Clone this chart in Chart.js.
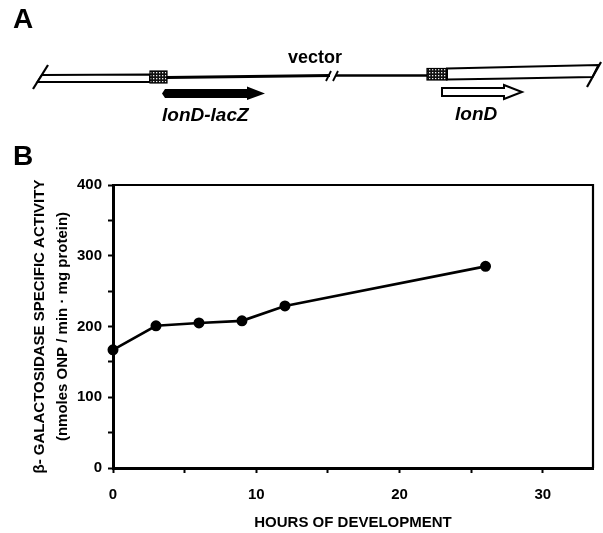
<!DOCTYPE html>
<html>
<head>
<meta charset="utf-8">
<script src="https://cdn.jsdelivr.net/npm/chart.js@4/dist/chart.umd.min.js"></script>
<style>
  html, body { margin: 0; padding: 0; background: #fff; }
  #wrap { position: relative; width: 603px; height: 533px; }
  #myChart { position: absolute; left: 0; top: 0; }
  #diagram { position: absolute; left: 0; top: 0; }
  text { font-family: "Liberation Sans", Arial, sans-serif; font-weight: bold; }
</style>
</head>
<body>
<div id="wrap">
  <canvas id="myChart" width="603" height="533"></canvas>
  <svg id="diagram" width="603" height="180" viewBox="0 0 603 180">
    <defs>
      <pattern id="hatch" width="3" height="3" patternUnits="userSpaceOnUse">
        <rect width="3" height="3" fill="#111"/>
        <rect x="0" y="0" width="1.3" height="1.3" fill="#eee"/>
      </pattern>
    </defs>
    <text x="13" y="28" font-size="28">A</text>
    <text x="13" y="165" font-size="28">B</text>

    <!-- left end -->
    <line x1="33" y1="89" x2="48" y2="65" stroke="#000" stroke-width="2.2"/>
    <polygon points="42,75 150,74.5 150,82 37.5,82" fill="#fff" stroke="#000" stroke-width="2"/>
    <rect x="150" y="71" width="17" height="12" fill="url(#hatch)" stroke="#000" stroke-width="1.2"/>
    <!-- vector line -->
    <line x1="167" y1="77.5" x2="330" y2="75.5" stroke="#000" stroke-width="3.2"/>
    <line x1="336" y1="75.5" x2="427" y2="75.5" stroke="#000" stroke-width="2.4"/>
    <line x1="326" y1="81" x2="331" y2="71" stroke="#000" stroke-width="1.8"/>
    <line x1="333" y1="81" x2="338" y2="71" stroke="#000" stroke-width="1.8"/>
    <text x="288" y="63" font-size="18">vector</text>
    <!-- right end -->
    <rect x="427" y="68.5" width="20" height="11.5" fill="url(#hatch)" stroke="#000" stroke-width="1.2"/>
    <polygon points="447,68.5 598.5,65 592.5,77 447,79.5" fill="#fff" stroke="#000" stroke-width="2"/>
    <line x1="587" y1="87" x2="601" y2="62" stroke="#000" stroke-width="2.2"/>
    <!-- arrows -->
    <polygon points="165,89 247,89 247,86.5 265,93.5 247,100 247,98 165,98 162,93.5" fill="#000"/>
    <polygon points="442,88 504,88 504,85 522,92 504,99 504,96 442,96" fill="#fff" stroke="#000" stroke-width="2"/>
    <text x="162" y="121" font-size="19" font-style="italic">lonD-lacZ</text>
    <text x="455" y="120" font-size="19" font-style="italic">lonD</text>
  </svg>
</div>
<script>
  // data
  const hours = [0, 3, 6, 9, 12, 26];
  const activity = [167, 201, 205, 208, 229, 285];
  const xTickLabels = [0, 10, 20, 30];
  const xTickMarks = [0, 5, 10, 15, 20, 25, 30];
  const yTickLabels = [0, 100, 200, 300, 400];

  const tickFont = { family: "'Liberation Sans', Arial, sans-serif", size: 15, weight: 'bold' };

  const frame = {
    id: 'frame',
    afterDraw(chart) {
      const { ctx, chartArea: a } = chart;
      ctx.save();
      ctx.strokeStyle = '#000';
      ctx.lineWidth = 2.2;
      ctx.beginPath();
      ctx.moveTo(a.left, a.top);
      ctx.lineTo(a.right, a.top);
      ctx.lineTo(a.right, a.bottom);
      ctx.stroke();
      ctx.restore();
    }
  };

  let ctx = document.getElementById('myChart').getContext('2d');
  let chart = new Chart(ctx, {
    type: 'scatter',
    data: {
      datasets: [{
        data: hours.map((h, i) => ({ x: h, y: activity[i] })),
        showLine: true,
        borderColor: '#000',
        borderWidth: 2.6,
        tension: 0,
        pointRadius: 4.2,
        pointBackgroundColor: '#000',
        pointBorderColor: '#000',
        clip: false
      }]
    },
    options: {
      responsive: false,
      animation: false,
      devicePixelRatio: 1,
      layout: { padding: { top: 185, right: 10, left: 0, bottom: 0 } },
      plugins: { legend: { display: false }, tooltip: { enabled: false } },
      scales: {
        x: {
          type: 'linear',
          min: 0,
          max: 33.5,
          afterBuildTicks: s => { s.ticks = xTickMarks.map(v => ({ value: v })); },
          afterFit: s => { s.height = 65; },
          ticks: {
            color: '#000',
            font: tickFont,
            padding: 13,
            maxRotation: 0,
            autoSkip: false,
            callback: v => xTickLabels.includes(v) ? String(v) : ''
          },
          grid: { drawOnChartArea: false, drawTicks: true, tickLength: 5, tickWidth: 2, tickColor: '#000' },
          border: { display: true, color: '#000', width: 3 },
          title: {
            display: true,
            text: 'HOURS OF DEVELOPMENT',
            color: '#000',
            font: { family: "'Liberation Sans', Arial, sans-serif", size: 15, weight: 'bold', lineHeight: 1.2 },
            padding: { top: 0, bottom: 1 }
          }
        },
        y: {
          min: 0,
          max: 400,
          afterFit: s => { s.width = 113; },
          ticks: {
            stepSize: 50,
            color: '#000',
            font: tickFont,
            padding: 6,
            autoSkip: false,
            callback: v => yTickLabels.includes(v) ? String(v) : ''
          },
          grid: { drawOnChartArea: false, drawTicks: true, tickLength: 5, tickWidth: 2, tickColor: '#000' },
          border: { display: true, color: '#000', width: 3 },
          title: {
            display: true,
            text: ['β- GALACTOSIDASE SPECIFIC ACTIVITY', '(nmoles ONP / min · mg protein)'],
            color: '#000',
            font: { family: "'Liberation Sans', Arial, sans-serif", size: 15, weight: 'bold', lineHeight: 1.53 },
            padding: { top: 28, bottom: 0 }
          }
        }
      }
    },
    plugins: [frame]
  });
</script>
</body>
</html>
